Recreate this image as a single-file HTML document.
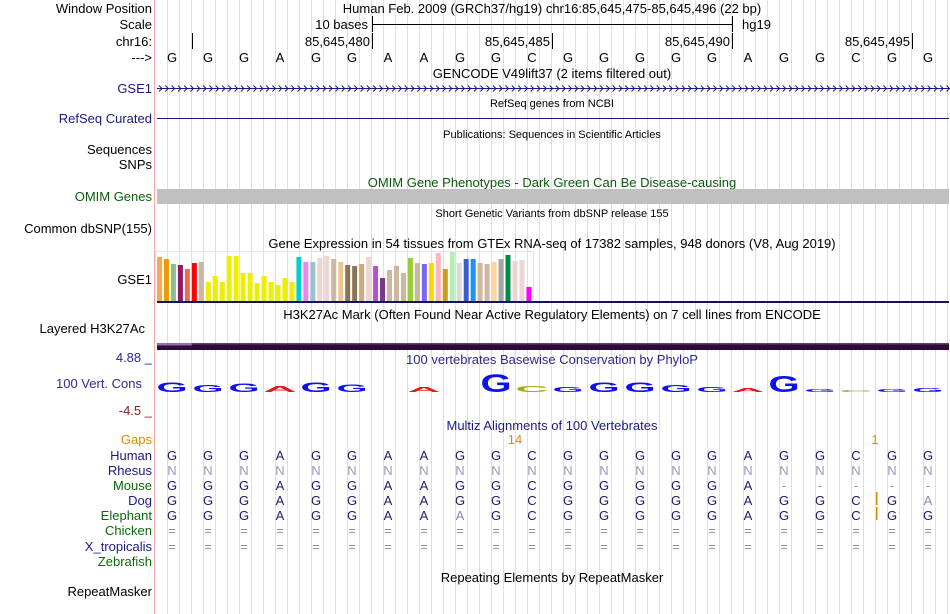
<!DOCTYPE html>
<html><head><meta charset="utf-8"><style>
html,body{margin:0;padding:0;background:#fff;}
svg{display:block;font-family:"Liberation Sans",sans-serif;}
</style></head><body>
<svg id="main" width="950" height="614" viewBox="0 0 950 614">
<g id="grid"></g>
<line x1="154.5" y1="0" x2="154.5" y2="614" stroke="#f4a8a8" stroke-width="1"/>
<g font-size="13" fill="#000" text-anchor="end">
<text x="152" y="13">Window Position</text>
<text x="152" y="29">Scale</text>
<text x="152" y="46">chr16:</text>
<text x="152" y="62">---&gt;</text>
<text x="152" y="93" fill="#1a1a80">GSE1</text>
<text x="152" y="123" fill="#1a1a80">RefSeq Curated</text>
<text x="152" y="154">Sequences</text>
<text x="152" y="169">SNPs</text>
<text x="152" y="201" fill="#0a5a0a">OMIM Genes</text>
<text x="152" y="233">Common dbSNP(155)</text>
<text x="152" y="284">GSE1</text>
<text x="145" y="333">Layered H3K27Ac</text>
<text x="152" y="362" fill="#2a2a90">4.88 _</text>
<text x="142" y="388" fill="#2a2a90">100 Vert. Cons</text>
<text x="152" y="415" fill="#8b1a1a">-4.5 _</text>
<text x="152" y="444" fill="#e08a00">Gaps</text>
<text x="152" y="460" fill="#1a1a80">Human</text>
<text x="152" y="475" fill="#1a1a80">Rhesus</text>
<text x="152" y="490" fill="#0a6a0a">Mouse</text>
<text x="152" y="505" fill="#1a1a80">Dog</text>
<text x="152" y="520" fill="#0a6a0a">Elephant</text>
<text x="152" y="535" fill="#0a6a0a">Chicken</text>
<text x="152" y="551" fill="#1a1a80">X_tropicalis</text>
<text x="152" y="566" fill="#0a6a0a">Zebrafish</text>
<text x="152" y="596">RepeatMasker</text>
</g>
<g font-size="13" text-anchor="middle">
<text x="552" y="13">Human Feb. 2009 (GRCh37/hg19)   chr16:85,645,475-85,645,496 (22 bp)</text>
<text x="552" y="78">GENCODE V49lift37 (2 items filtered out)</text>
<text x="552" y="107" font-size="11">RefSeq genes from NCBI</text>
<text x="552" y="138" font-size="11">Publications: Sequences in Scientific Articles</text>
<text x="552" y="187" fill="#0a5a0a">OMIM Gene Phenotypes - Dark Green Can Be Disease-causing</text>
<text x="552" y="217" font-size="11">Short Genetic Variants from dbSNP release 155</text>
<text x="552" y="248">Gene Expression in 54 tissues from GTEx RNA-seq of 17382 samples, 948 donors (V8, Aug 2019)</text>
<text x="552" y="319">H3K27Ac Mark (Often Found Near Active Regulatory Elements) on 7 cell lines from ENCODE</text>
<text x="552" y="364" fill="#2a2a90">100 vertebrates Basewise Conservation by PhyloP</text>
<text x="552" y="430" fill="#1a1a80">Multiz Alignments of 100 Vertebrates</text>
<text x="552" y="582">Repeating Elements by RepeatMasker</text>
</g>
<g>
<line x1="372.5" y1="16" x2="372.5" y2="32" stroke="#000"/>
<line x1="372" y1="24.5" x2="733" y2="24.5" stroke="#000"/>
<line x1="732.5" y1="16" x2="732.5" y2="32" stroke="#000"/>
<text x="368" y="29" font-size="13" text-anchor="end">10 bases</text>
<text x="742" y="29" font-size="13">hg19</text>
</g>
<g id="ruler" font-size="13" text-anchor="end">
<line x1="192.5" y1="33" x2="192.5" y2="49" stroke="#000"/>
</g>
<g id="bases" font-size="13" text-anchor="middle"></g>
<g id="gse1">
<line x1="157" y1="88.5" x2="949" y2="88.5" stroke="#1a1a80"/>
</g>
<line x1="157" y1="118.5" x2="949" y2="118.5" stroke="#1a1a80"/>
<rect x="157" y="189" width="792" height="15" fill="#c0c0c0"/>
<rect x="155.5" y="251.5" width="378" height="50" fill="none" stroke="#e4e4e4"/>
<g id="gtex"></g>
<rect x="157" y="301" width="792" height="2" fill="#14145a"/>
<rect x="157" y="343" width="792" height="7" fill="#2a0c36"/>
<rect x="157" y="343" width="792" height="1.5" fill="#6a3a78"/>
<rect x="157" y="343" width="35" height="2.5" fill="#9a6aa8"/>
<g id="cons"></g>
<g id="multiz" font-size="13" text-anchor="middle">
<text x="515" y="444" fill="#e08a00">14</text>
<text x="875" y="444" fill="#e08a00">1</text>
<rect x="876" y="492" width="1.5" height="13" fill="#e08a00"/>
<rect x="876" y="507" width="1.5" height="13" fill="#e08a00"/>
</g>
</svg>
<script>
const NS="http://www.w3.org/2000/svg";
const seq=["G","G","G","A","G","G","A","A","G","G","C","G","G","G","G","G","A","G","G","C","G","G"];
const rulerLabels=["85,645,480","85,645,485","85,645,490","85,645,495"];
const rulerIdx=[6,11,16,21];
const gtexVals=[44,42,37,36,32,38,39,19,25,19,45,45,28,28,18,25,19,16,23,19,44,39,39,43,45,42,39,36,35,37,44,35,23,31,35,28,43,38,37,38,48,32,49,38,42,42,38,37,39,42,46,40,41,14];
const gtexColors=["#FFA54F","#EE9A00","#8FBC8F","#8B1C62","#EE6A50","#FF0000","#CDB79E","#EEEE00","#EEEE00","#EEEE00","#EEEE00","#EEEE00","#EEEE00","#EEEE00","#EEEE00","#EEEE00","#EEEE00","#EEEE00","#EEEE00","#EEEE00","#00CDCD","#EE82EE","#9AC0CD","#EED5D2","#EED5D2","#CDB79E","#EEC591","#8B7355","#8B7355","#CDAA7D","#EED5D2","#B452CD","#7A378B","#CDB79E","#CDB79E","#CDB79E","#9ACD32","#CDB79E","#7A67EE","#FFD700","#FFB6C1","#CD9B1D","#B4EEB4","#D9D9D9","#3A5FCD","#1E90FF","#CDB79E","#CDB79E","#FFD39B","#A6A6A6","#008B45","#EED5D2","#EED5D2","#FF00FF"];
const consHeights=[10,7,9,6,10,8,0,5,0,18,6,5,10,10,7,5,4,17,3,2,3,4];
const species=["Human","Rhesus","Mouse","Dog","Elephant","Chicken","X_tropicalis"];
const aln=[
"GGGAGGAAGGCGGGGGAGGCGG",
"NNNNNNNNNNNNNNNNNNNNNN",
"GGGAGGAAGGCGGGGGA-----",
"GGGAGGAAGGCGGGGGAGGCGa",
"GGGAGGAAaGCGGGGGAGGCGG",
"======================",
"======================"];
const alnColors=["#1a1a6a","#9898b8","#1a1a6a","#1a1a6a","#1a1a6a","#8888b0","#8888b0"];
const x0=157,bp=36;
function bx(i){return x0+bp*i+bp/2-3;}
function mk(tag,attrs,parent){const e=document.createElementNS(NS,tag);for(const k in attrs)e.setAttribute(k,attrs[k]);parent.appendChild(e);return e;}
const grid=document.getElementById('grid');
for(let x=167;x<950;x+=12){
 const l=mk('line',{x1:x+.5,y1:0,x2:x+.5,y2:614,stroke:'#dcdcf2','stroke-width':1},grid);
 
 
}
const ruler=document.getElementById('ruler');
rulerIdx.forEach((idx,k)=>{
 const x=x0+bp*idx-1;
 const l=mk('line',{x1:x+.5,y1:33,x2:x+.5,y2:49,stroke:'#000'},ruler);
 
 
 const t=mk('text',{x:x-2,y:46},ruler);t.textContent=rulerLabels[k];
 
 
});
const bases=document.getElementById('bases');
seq.forEach((b,i)=>{const t=mk('text',{x:bx(i),y:62},bases);t.textContent=b;
 
 });
const g1=document.getElementById('gse1');
for(let x=159;x<948;x+=6.3){mk('path',{d:`M${x} ${85.5}L${x+3} ${88.5}L${x} ${91.5}`,fill:'none',stroke:'#1a1a80','stroke-width':1},g1);}
const gtex=document.getElementById('gtex');
gtexVals.forEach((v,i)=>{
 const r=mk('rect',{x:157+i*6.97,y:301-v,width:5,height:v,fill:gtexColors[i]},gtex);
 
 
});
const cons=document.getElementById('cons');
const cc={G:'#1010e8',A:'#e01818',C:'#a8a818'};
consHeights.forEach((h,i)=>{
 if(!h)return;
 const b=seq[i];
 const t=mk('text',{x:0,y:0,'font-size':20,'font-weight':'bold','text-anchor':'middle',fill:cc[b],
  transform:`translate(${bx(i)},392) scale(${b==='G'?2.0:2.3},${h/14.5})`},cons);
 t.textContent=b;
 
 
});
const mz=document.getElementById('multiz');
const rowsY=[460,475,490,505,520,535,551];
aln.forEach((s,r)=>{
 for(let i=0;i<s.length;i++){
  let ch=s[i],col=alnColors[r];
  if(ch>='a'&&ch<='z'){ch=ch.toUpperCase();col='#8888b0';}
  if(ch==='-')col='#8888b0';
  const t=mk('text',{x:bx(i),y:rowsY[r],fill:col},mz);t.textContent=ch;
  
  
 }
});
</script>
</body></html>
